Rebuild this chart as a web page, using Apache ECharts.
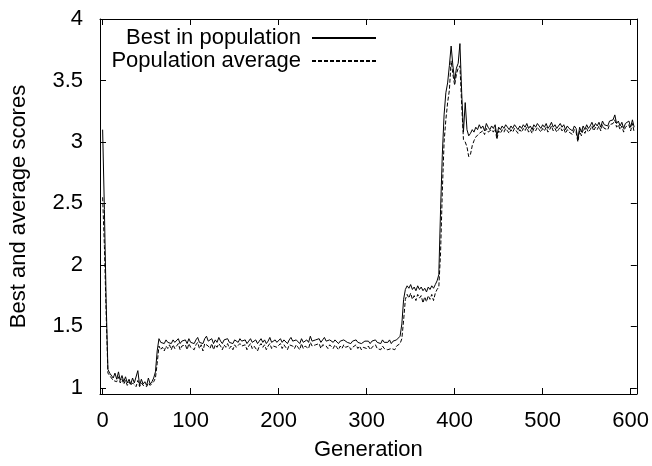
<!DOCTYPE html>
<html>
<head>
<meta charset="utf-8">
<script src="https://cdn.jsdelivr.net/npm/echarts@6/dist/echarts.min.js"></script>
<style>html,body{margin:0;padding:0;background:#fff}#c{width:652px;height:466px}</style>
</head>
<body>
<div id="c"></div>
<script>
// Generations are sampled every GEN_STEP generations, starting at 0
const GEN_STEP = 2;
const xTicks = [0, 100, 200, 300, 400, 500, 600];
const yTicks = [1, 1.5, 2, 2.5, 3, 3.5, 4];
const seriesNames = ['Best in population', 'Population average'];

const best = [
  3.10, 2.45, 1.70, 1.15, 1.12, 1.11, 1.08, 1.12, 1.07, 1.13,
  1.06, 1.10, 1.05, 1.09, 1.04, 1.07, 1.03, 1.08, 1.04, 1.03,
  1.14, 1.02, 1.07, 1.03, 1.05, 1.02, 1.08, 1.03, 1.05, 1.08,
  1.13, 1.30, 1.40, 1.37, 1.38, 1.36, 1.39, 1.37, 1.38, 1.36,
  1.39, 1.37, 1.38, 1.40, 1.36, 1.38, 1.37, 1.39, 1.36, 1.40,
  1.37, 1.38, 1.36, 1.39, 1.41, 1.37, 1.38, 1.36, 1.40, 1.42,
  1.38, 1.37, 1.40, 1.36, 1.39, 1.37, 1.41, 1.38, 1.36, 1.39,
  1.38, 1.40, 1.37, 1.38, 1.36, 1.39, 1.38, 1.37, 1.40, 1.38,
  1.37, 1.39, 1.36, 1.38, 1.40, 1.37, 1.38, 1.39, 1.36, 1.38,
  1.40, 1.37, 1.39, 1.36, 1.38, 1.41, 1.37, 1.38, 1.39, 1.37,
  1.38, 1.40, 1.37, 1.39, 1.38, 1.36, 1.39, 1.41, 1.38, 1.37,
  1.39, 1.38, 1.36, 1.40, 1.37, 1.38, 1.39, 1.37, 1.42, 1.38,
  1.37, 1.39, 1.38, 1.40, 1.37, 1.39, 1.41, 1.38, 1.37, 1.39,
  1.38, 1.37, 1.39, 1.38, 1.36, 1.38, 1.37, 1.39, 1.38, 1.37,
  1.38, 1.36, 1.38, 1.37, 1.39, 1.37, 1.38, 1.36, 1.37, 1.38,
  1.37, 1.38, 1.36, 1.38, 1.37, 1.39, 1.37, 1.38, 1.36, 1.39,
  1.37, 1.38, 1.37, 1.39, 1.36, 1.38, 1.37, 1.39, 1.38, 1.42,
  1.52, 1.72, 1.80, 1.83, 1.81, 1.84, 1.80, 1.82, 1.79, 1.83,
  1.80, 1.82, 1.79, 1.81, 1.78, 1.82, 1.80, 1.83, 1.81, 1.84,
  1.87, 1.92, 2.45, 2.90, 3.22, 3.40, 3.48, 3.62, 3.78, 3.62,
  3.50, 3.60, 3.64, 3.80, 3.40, 3.08, 3.32, 3.10, 3.05, 3.07,
  3.10, 3.08, 3.12, 3.10, 3.14, 3.11, 3.13, 3.09, 3.15, 3.12,
  3.10, 3.13, 3.11, 3.14, 3.05, 3.12, 3.10, 3.13, 3.11, 3.14,
  3.12, 3.10, 3.13, 3.11, 3.14, 3.12, 3.10, 3.13, 3.11, 3.14,
  3.12, 3.15, 3.11, 3.13, 3.10, 3.14, 3.12, 3.15, 3.13, 3.11,
  3.14, 3.12, 3.15, 3.11, 3.13, 3.16, 3.12, 3.14, 3.11, 3.13,
  3.15, 3.12, 3.14, 3.10, 3.13, 3.11, 3.12, 3.09, 3.13, 3.11,
  3.02, 3.12, 3.08, 3.13, 3.10, 3.14, 3.11, 3.13, 3.16, 3.12,
  3.15, 3.13, 3.16, 3.12, 3.17, 3.14, 3.15, 3.13, 3.17, 3.16,
  3.18, 3.22, 3.15, 3.17, 3.13, 3.16, 3.11, 3.15, 3.14, 3.17,
  3.12, 3.18, 3.12
];

const average = [
  2.55, 2.15, 1.60, 1.12, 1.10, 1.08, 1.06, 1.07, 1.05, 1.09,
  1.04, 1.07, 1.03, 1.06, 1.02, 1.05, 1.02, 1.04, 1.03, 1.01,
  1.06, 1.01, 1.04, 1.02, 1.03, 1.01, 1.04, 1.02, 1.03, 1.05,
  1.08, 1.20, 1.34, 1.31, 1.33, 1.30, 1.34, 1.32, 1.35, 1.31,
  1.35, 1.32, 1.34, 1.36, 1.31, 1.34, 1.33, 1.35, 1.31, 1.36,
  1.33, 1.34, 1.31, 1.35, 1.37, 1.32, 1.35, 1.30, 1.36, 1.37,
  1.34, 1.32, 1.36, 1.31, 1.35, 1.33, 1.36, 1.34, 1.31, 1.35,
  1.33, 1.36, 1.32, 1.34, 1.31, 1.35, 1.33, 1.32, 1.36, 1.34,
  1.33, 1.35, 1.31, 1.34, 1.36, 1.32, 1.34, 1.35, 1.30, 1.34,
  1.36, 1.33, 1.35, 1.31, 1.34, 1.36, 1.32, 1.34, 1.35, 1.33,
  1.34, 1.36, 1.32, 1.35, 1.33, 1.31, 1.35, 1.36, 1.34, 1.32,
  1.35, 1.33, 1.31, 1.36, 1.32, 1.34, 1.35, 1.32, 1.37, 1.34,
  1.33, 1.35, 1.34, 1.36, 1.32, 1.35, 1.36, 1.34, 1.32, 1.35,
  1.34, 1.32, 1.35, 1.33, 1.31, 1.34, 1.32, 1.35, 1.33, 1.32,
  1.34, 1.31, 1.33, 1.32, 1.35, 1.32, 1.34, 1.31, 1.33, 1.34,
  1.32, 1.34, 1.31, 1.33, 1.32, 1.35, 1.32, 1.33, 1.31, 1.34,
  1.32, 1.33, 1.31, 1.30, 1.32, 1.33, 1.31, 1.34, 1.33, 1.36,
  1.40, 1.55, 1.72, 1.76, 1.73, 1.77, 1.72, 1.75, 1.71, 1.76,
  1.73, 1.75, 1.69, 1.74, 1.70, 1.75, 1.72, 1.76, 1.71, 1.77,
  1.80, 1.82, 2.10, 2.60, 3.00, 3.18, 3.32, 3.42, 3.66, 3.55,
  3.46, 3.55, 3.60, 3.62, 3.30, 3.02, 3.00, 2.96, 2.88, 2.90,
  2.97, 3.01, 3.04, 3.03, 3.07, 3.06, 3.09, 3.06, 3.11, 3.08,
  3.07, 3.10, 3.08, 3.11, 3.02, 3.09, 3.07, 3.10, 3.08, 3.11,
  3.09, 3.07, 3.10, 3.08, 3.11, 3.09, 3.07, 3.10, 3.08, 3.11,
  3.09, 3.12, 3.08, 3.10, 3.07, 3.11, 3.09, 3.12, 3.10, 3.08,
  3.11, 3.09, 3.12, 3.08, 3.10, 3.13, 3.09, 3.11, 3.08, 3.10,
  3.12, 3.09, 3.11, 3.07, 3.10, 3.08, 3.09, 3.06, 3.10, 3.08,
  3.00, 3.09, 3.05, 3.10, 3.07, 3.11, 3.08, 3.10, 3.13, 3.09,
  3.12, 3.10, 3.13, 3.09, 3.14, 3.11, 3.12, 3.10, 3.14, 3.13,
  3.15, 3.18, 3.12, 3.14, 3.10, 3.13, 3.08, 3.12, 3.11, 3.14,
  3.09, 3.15, 3.08
];

const FONT = "'Liberation Sans', Arial, Helvetica, sans-serif";
const toPairs = arr => arr.map((v, i) => [i * GEN_STEP, v]);

const chart = echarts.init(document.getElementById('c'), null, {renderer: 'canvas'});

const tickStyle = {show: true, inside: true, length: 6, lineStyle: {color: '#000', width: 1}};
const lineAxis = {show: true, onZero: false, lineStyle: {color: '#000', width: 1}};

function legendFor(name, top) {
  return {
    data: [name], orient: 'vertical', align: 'right',
    right: 275, top: top, itemWidth: 64, itemHeight: 10, itemGap: 0, padding: 0,
    selectedMode: false,
    itemStyle: {opacity: 0, borderWidth: 0},
    textStyle: {fontFamily: FONT, fontSize: 22, color: '#000', padding: [0, 6, 0, 0]}
  };
}

chart.setOption({
  animation: false,
  backgroundColor: '#fff',
  textStyle: {fontFamily: FONT},
  grid: {left: 99, right: 13, top: 19, bottom: 66, containLabel: false},
  legend: [legendFor(seriesNames[0], 27), legendFor(seriesNames[1], 50)],
  xAxis: [
    {
      type: 'value', position: 'bottom', min: -3, max: 607,
      name: 'Generation', nameLocation: 'middle', nameGap: 45,
      nameTextStyle: {fontFamily: FONT, fontSize: 22, color: '#000'},
      axisLine: lineAxis,
      axisTick: Object.assign({customValues: xTicks}, tickStyle),
      axisLabel: {customValues: xTicks, fontFamily: FONT, fontSize: 22, color: '#000', margin: 16},
      splitLine: {show: false}
    },
    {
      type: 'value', position: 'top', min: -3, max: 607,
      axisLine: lineAxis,
      axisTick: Object.assign({customValues: xTicks}, tickStyle),
      axisLabel: {show: false},
      splitLine: {show: false}
    }
  ],
  yAxis: [
    {
      type: 'value', position: 'left', min: 0.95, max: 4,
      name: 'Best and average scores', nameLocation: 'middle', nameGap: 70,
      nameTextStyle: {fontFamily: FONT, fontSize: 22, color: '#000'},
      axisLine: lineAxis,
      axisTick: Object.assign({customValues: yTicks}, tickStyle),
      axisLabel: {customValues: yTicks, fontFamily: FONT, fontSize: 22, color: '#000', margin: 17},
      splitLine: {show: false}
    },
    {
      type: 'value', position: 'right', min: 0.95, max: 4,
      axisLine: lineAxis,
      axisTick: Object.assign({customValues: yTicks}, tickStyle),
      axisLabel: {show: false},
      splitLine: {show: false}
    }
  ],
  series: [
    {
      name: seriesNames[0], type: 'line', xAxisIndex: 0, yAxisIndex: 0,
      data: toPairs(best), showSymbol: false, symbol: 'none',
      lineStyle: {color: '#000', width: 1, type: 'solid'},
      itemStyle: {color: '#000'}
    },
    {
      name: seriesNames[1], type: 'line', xAxisIndex: 0, yAxisIndex: 0,
      data: toPairs(average), showSymbol: false, symbol: 'none',
      lineStyle: {color: '#000', width: 1, type: [4, 2]},
      itemStyle: {color: '#000'}
    }
  ]
});
</script>
</body>
</html>
